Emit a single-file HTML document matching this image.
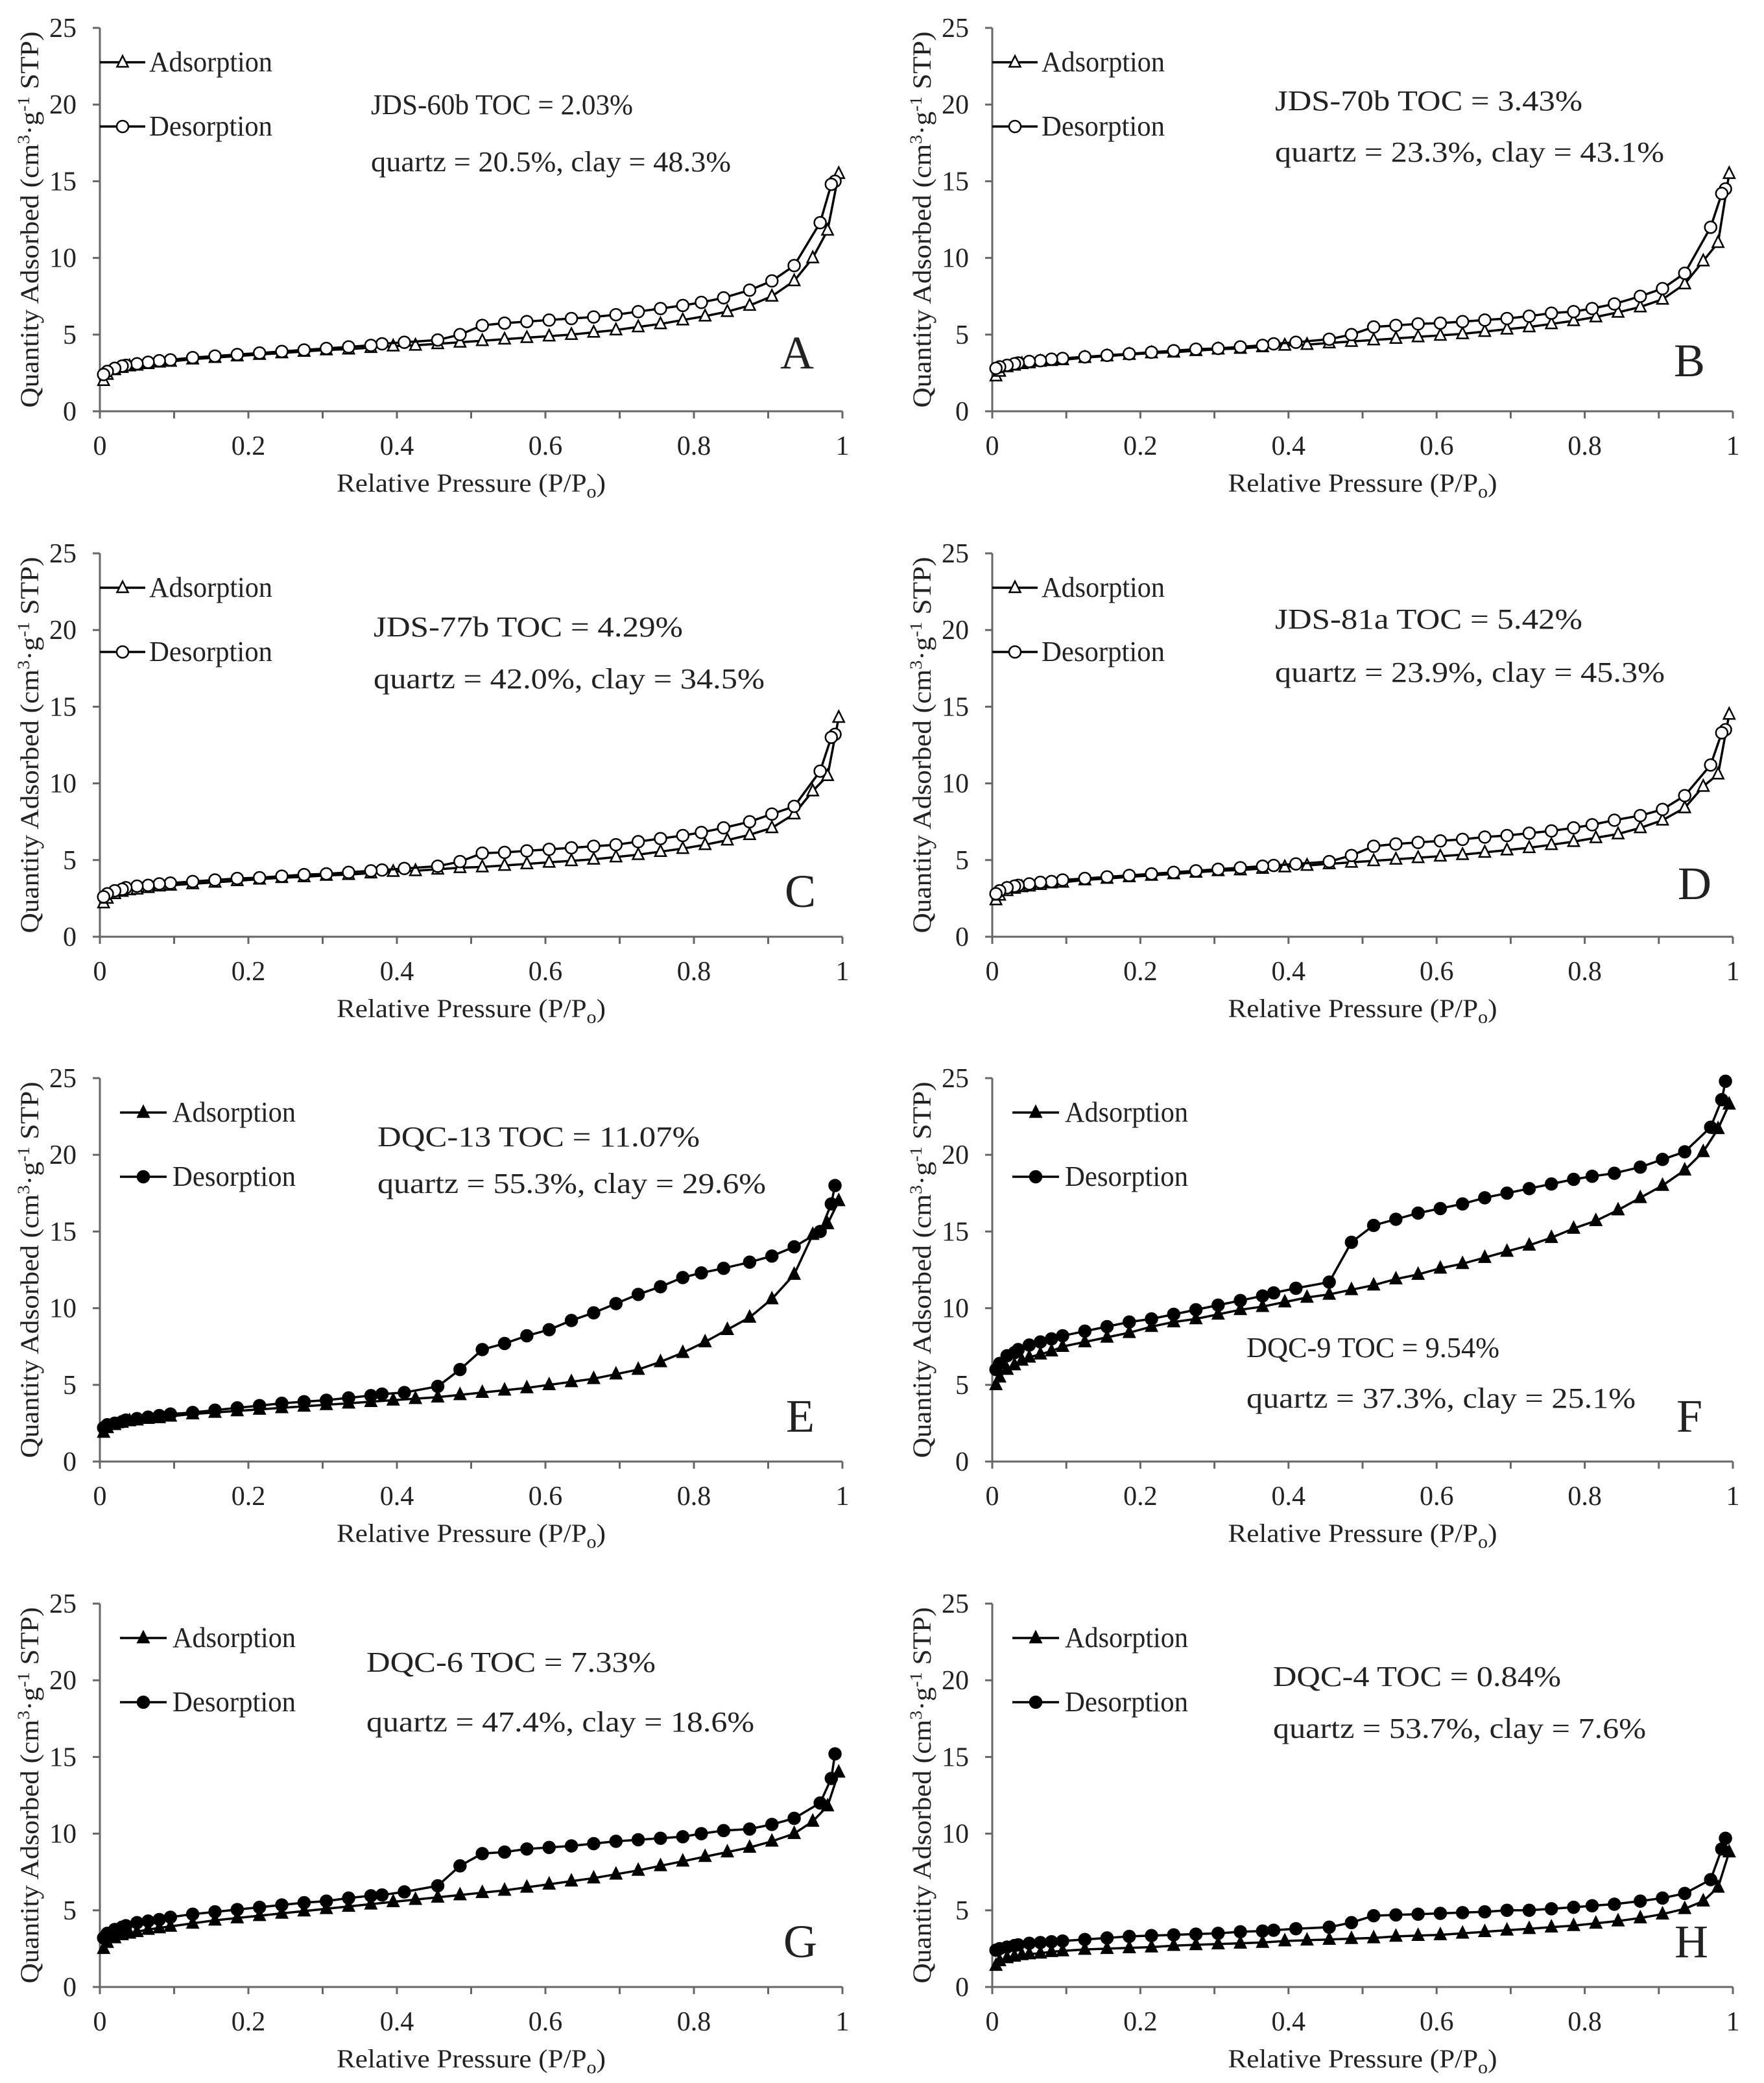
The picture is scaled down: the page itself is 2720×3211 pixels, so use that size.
<!DOCTYPE html>
<html><head><meta charset="utf-8"><style>
html,body{margin:0;padding:0;background:#fff}
svg{display:block}
text{font-family:"Liberation Serif",serif;fill:#222}
</style></head><body>
<svg id="fig" width="2720" height="3211" viewBox="0 0 2720 3211" xmlns="http://www.w3.org/2000/svg"></svg>
<script>
// shared x values (relative pressure)
const adsX = [0.005,0.01,0.02,0.03,0.04,0.05,0.065,0.08,0.095,0.125,0.155,0.185,0.215,0.245,0.275,0.305,0.335,0.365,0.395,0.425,0.455,0.485,0.515,0.545,0.575,0.605,0.635,0.665,0.695,0.725,0.755,0.785,0.815,0.845,0.875,0.905,0.935,0.96,0.98,0.995];
const desX = [0.99,0.985,0.97,0.935,0.905,0.875,0.84,0.81,0.785,0.755,0.725,0.695,0.665,0.635,0.605,0.575,0.545,0.515,0.485,0.455,0.41,0.38,0.365,0.335,0.305,0.275,0.245,0.215,0.185,0.155,0.125,0.095,0.08,0.065,0.05,0.035,0.03,0.02,0.01,0.005];
const xTicks = [0,0.2,0.4,0.6,0.8,1];
const xTickLabels = ["0","0.2","0.4","0.6","0.8","1"];
const yTicks = [0,5,10,15,20,25];
const panelIds = ["A","B","C","D","E","F","G","H"];
const adsA = [2.0,2.4,2.7,2.85,2.95,3.0,3.1,3.2,3.25,3.4,3.5,3.6,3.7,3.8,3.9,4.0,4.05,4.15,4.25,4.3,4.4,4.5,4.6,4.7,4.8,4.9,5.0,5.15,5.3,5.5,5.7,5.95,6.2,6.5,6.9,7.5,8.5,10.0,11.8,15.5];
const desA = [15.0,14.8,12.3,9.5,8.5,7.9,7.4,7.1,6.9,6.7,6.5,6.3,6.15,6.05,5.95,5.85,5.75,5.6,5.0,4.65,4.5,4.4,4.3,4.2,4.1,4.0,3.9,3.8,3.7,3.6,3.5,3.35,3.3,3.2,3.1,3.0,2.95,2.8,2.6,2.4];
const adsB = [2.3,2.6,2.9,3.0,3.1,3.15,3.25,3.3,3.35,3.5,3.6,3.7,3.8,3.85,3.95,4.05,4.1,4.2,4.3,4.35,4.45,4.55,4.65,4.75,4.85,4.95,5.05,5.2,5.35,5.5,5.7,5.9,6.15,6.45,6.8,7.3,8.3,9.8,11.0,15.5];
const desB = [14.5,14.2,12.0,9.0,8.0,7.5,7.0,6.7,6.5,6.4,6.2,6.05,5.95,5.85,5.75,5.7,5.6,5.5,5.0,4.7,4.5,4.4,4.3,4.2,4.1,4.05,3.95,3.85,3.75,3.65,3.55,3.45,3.4,3.3,3.25,3.15,3.1,3.0,2.9,2.8];
const adsC = [2.2,2.5,2.8,2.95,3.05,3.1,3.2,3.3,3.35,3.45,3.55,3.65,3.75,3.85,3.9,4.0,4.05,4.15,4.25,4.3,4.4,4.5,4.55,4.65,4.75,4.85,4.95,5.05,5.2,5.35,5.55,5.75,6.0,6.3,6.65,7.1,8.0,9.5,10.5,14.3];
const desC = [13.2,13.0,10.8,8.5,8.0,7.5,7.1,6.8,6.6,6.4,6.2,6.0,5.9,5.8,5.7,5.6,5.5,5.45,4.9,4.6,4.45,4.35,4.3,4.2,4.1,4.05,3.95,3.85,3.8,3.7,3.6,3.5,3.45,3.35,3.3,3.2,3.1,3.0,2.8,2.6];
const adsD = [2.4,2.7,3.0,3.15,3.25,3.3,3.4,3.5,3.55,3.7,3.8,3.9,4.0,4.1,4.2,4.3,4.35,4.45,4.55,4.65,4.75,4.85,4.95,5.05,5.15,5.25,5.35,5.5,5.65,5.8,6.0,6.2,6.45,6.7,7.1,7.6,8.4,9.8,10.6,14.5];
const desD = [13.5,13.3,11.2,9.2,8.3,7.9,7.6,7.3,7.1,6.9,6.75,6.6,6.5,6.35,6.25,6.15,6.05,5.9,5.3,4.9,4.75,4.65,4.6,4.5,4.4,4.3,4.2,4.1,4.0,3.9,3.8,3.7,3.6,3.55,3.45,3.35,3.3,3.2,3.0,2.8];
const adsE = [1.9,2.2,2.4,2.55,2.65,2.7,2.8,2.85,2.95,3.1,3.2,3.3,3.4,3.5,3.6,3.7,3.8,3.9,4.0,4.1,4.2,4.35,4.5,4.65,4.8,5.0,5.2,5.4,5.7,6.0,6.5,7.1,7.8,8.6,9.4,10.6,12.2,14.8,15.5,17.0];
const desE = [18.0,16.8,15.0,14.0,13.4,13.0,12.6,12.3,12.0,11.4,10.9,10.3,9.7,9.2,8.6,8.2,7.7,7.3,6.0,4.9,4.5,4.4,4.3,4.15,4.0,3.9,3.8,3.65,3.5,3.35,3.2,3.1,3.0,2.9,2.8,2.7,2.6,2.5,2.4,2.2];
const adsF = [5.0,5.5,6.0,6.3,6.6,6.8,7.0,7.2,7.5,7.8,8.1,8.4,8.8,9.1,9.3,9.6,9.9,10.1,10.4,10.7,10.9,11.2,11.5,11.9,12.2,12.6,12.9,13.3,13.7,14.1,14.6,15.2,15.7,16.4,17.2,18.0,19.0,20.2,21.7,23.3];
const desF = [24.8,23.6,21.8,20.2,19.7,19.2,18.8,18.6,18.4,18.1,17.8,17.5,17.2,16.8,16.5,16.2,15.8,15.4,14.3,11.7,11.3,11.0,10.8,10.5,10.2,9.9,9.6,9.3,9.1,8.8,8.5,8.2,8.0,7.8,7.6,7.3,7.1,6.9,6.4,6.0];
const adsG = [2.5,2.9,3.2,3.4,3.5,3.6,3.75,3.85,3.95,4.15,4.35,4.5,4.65,4.8,4.95,5.1,5.25,5.4,5.55,5.7,5.85,6.0,6.15,6.3,6.5,6.7,6.9,7.1,7.35,7.6,7.9,8.2,8.5,8.8,9.1,9.5,10.0,10.8,11.8,14.0];
const desG = [15.2,13.6,12.0,11.0,10.6,10.3,10.2,10.0,9.8,9.7,9.6,9.5,9.35,9.2,9.1,9.0,8.8,8.7,7.9,6.6,6.2,6.0,5.95,5.8,5.6,5.5,5.35,5.2,5.05,4.9,4.75,4.55,4.4,4.3,4.2,4.0,3.9,3.75,3.5,3.2];
const adsH = [1.4,1.7,1.9,2.0,2.1,2.15,2.2,2.3,2.35,2.45,2.5,2.55,2.6,2.7,2.75,2.8,2.85,2.9,3.0,3.05,3.1,3.15,3.2,3.3,3.35,3.4,3.5,3.6,3.7,3.8,3.9,4.0,4.15,4.3,4.5,4.75,5.1,5.6,6.5,8.8];
const desH = [9.7,9.0,7.0,6.1,5.8,5.6,5.4,5.3,5.2,5.1,5.0,5.0,4.9,4.85,4.8,4.75,4.7,4.65,4.2,3.9,3.8,3.7,3.65,3.6,3.5,3.45,3.4,3.35,3.3,3.2,3.1,3.0,2.95,2.9,2.85,2.75,2.7,2.6,2.5,2.4];
const adsSeries = [adsA,adsB,adsC,adsD,adsE,adsF,adsG,adsH];
const desSeries = [desA,desB,desC,desD,desE,desF,desG,desH];
const note1 = ["JDS-60b  TOC = 2.03%","JDS-70b  TOC = 3.43%","JDS-77b  TOC = 4.29%","JDS-81a  TOC = 5.42%","DQC-13  TOC = 11.07%","DQC-9  TOC = 9.54%","DQC-6  TOC = 7.33%","DQC-4  TOC = 0.84%"];
const note2 = ["quartz = 20.5%,  clay = 48.3%","quartz = 23.3%,  clay = 43.1%","quartz = 42.0%,  clay = 34.5%","quartz = 23.9%,  clay = 45.3%","quartz = 55.3%,  clay = 29.6%","quartz = 37.3%,  clay = 25.1%","quartz = 47.4%,  clay = 18.6%","quartz = 53.7%,  clay = 7.6%"];

const NS = "http://www.w3.org/2000/svg";
const svg = document.getElementById("fig");
function mk(tag, attrs, parent){const e=document.createElementNS(NS,tag);for(const k in attrs)e.setAttribute(k,attrs[k]);(parent||svg).appendChild(e);return e;}

// layout (display-derived)
const colX = [[154,1299],[1530,2672]];
const rowTop = [43,853,1662,2472];
const plotH = 591;
// annotation positions relative to plot origin (left, top)
const n1Pos = [[418,118,404],[436,112,474],[422,113,477],[436,101,474],[428,90,497],[392,415,390],[411,90,446],[433,112,444]];
const n2Pos = [[418,206,555],[436,191,600],[422,193,603],[436,183,601],[428,162,599],[392,493,600],[411,182,598],[433,192,575]];
const letPos = [[1075,500],[1075,512],[1080,520],[1083,508],[1080,520],[1075,520],[1080,520],[1078,520]];

panelIds.forEach((id,i)=>{
  const c=i%2, r=Math.floor(i/2);
  const x0=colX[c][0], x1=colX[c][1], yTop=rowTop[r], yBot=yTop+plotH;
  const sx=v=>x0+(x1-x0)*v;
  const sy=v=>yBot-(yBot-yTop)*v/25;
  const filled = i>=4;
  const g=mk("g",{});
  
  
  // axes
  const ax=mk("path",{d:`M${x0},${yTop}V${yBot}H${x1}`,stroke:"#666","stroke-width":3,fill:"none"},g);
  
  
  yTicks.forEach(t=>{
    const y=sy(t);
    mk("line",{x1:x0-11,x2:x0,y1:y,y2:y,stroke:"#666","stroke-width":3},g);
    const tl=mk("text",{x:x0-36,y:y+14,"text-anchor":"end","font-size":42,fill:"#333"},g);
    tl.textContent=String(t);
    
    
  });
  for(let k=0;k<=10;k++){const x=sx(k/10);mk("line",{x1:x,x2:x,y1:yBot,y2:yBot+11,stroke:"#666","stroke-width":3},g);}
  xTicks.forEach((t,k)=>{
    const tl=mk("text",{x:sx(t),y:yBot+67,"text-anchor":"middle","font-size":42,fill:"#333"},g);
    tl.textContent=xTickLabels[k];
    
    
  });
  const xt=mk("text",{x:(x0+x1)/2,y:yBot+124,"text-anchor":"middle","font-size":40,fill:"#333",textLength:415,lengthAdjust:"spacingAndGlyphs"},g);
  xt.innerHTML='Relative Pressure (P/P<tspan font-size="28" dy="9">o</tspan><tspan dy="-9">)</tspan>';
  
  
  const yt=mk("text",{x:0,y:0,"text-anchor":"middle","font-size":40,fill:"#333",textLength:580,lengthAdjust:"spacingAndGlyphs",transform:`translate(${x0-95},${(yTop+yBot)/2}) rotate(-90)`},g);
  yt.innerHTML='Quantity Adsorbed (cm<tspan font-size="26" dy="-14">3</tspan><tspan dy="14">·g</tspan><tspan font-size="26" dy="-14">-1</tspan><tspan dy="14"> STP)</tspan>';
  
  
  // series
  function drawSeries(xs,ys,kind,name){
    const sg=mk("g",{},g);
    
    
    const d=xs.map((x,k)=>(k?"L":"M")+sx(x).toFixed(1)+","+sy(ys[k]).toFixed(1)).join("");
    mk("path",{d:d,stroke:"#000","stroke-width":3.5,fill:"none","stroke-linejoin":"round"},sg);
    xs.forEach((x,k)=>{
      const px=sx(x), py=sy(ys[k]);
      let m;
      if(kind==="tri") m=mk("path",{d:`M${px},${py-10}L${px+8.5},${py+7}L${px-8.5},${py+7}Z`,fill:filled?"#000":"#fff",stroke:"#000","stroke-width":2.5},sg);
      else m=mk("circle",{cx:px,cy:py,r:9,fill:filled?"#000":"#fff",stroke:"#000","stroke-width":2.5},sg);
      
      
    });
  }
  drawSeries(adsX,adsSeries[i],"tri","adsorption-series-"+id.toLowerCase());
  drawSeries(desX,desSeries[i],"circ","desorption-series-"+id.toLowerCase());
  // legend
  const lx0 = filled ? x0+31 : x0, lx1 = filled ? x0+103 : x0+70, lmx=(lx0+lx1)/2+ (filled?0:0), ltx = filled ? x0+112 : x0+76;
  const ly=[yTop+53, yTop+152];
  [["Adsorption","tri"],["Desorption","circ"]].forEach((e,k)=>{
    const lg=mk("g",{},g);
    
    
    mk("line",{x1:lx0,x2:lx1,y1:ly[k],y2:ly[k],stroke:"#000","stroke-width":3.5},lg);
    const px=lmx, py=ly[k];
    if(e[1]==="tri") mk("path",{d:`M${px},${py-10}L${px+8.5},${py+7}L${px-8.5},${py+7}Z`,fill:filled?"#000":"#fff",stroke:"#000","stroke-width":2.5},lg);
    else mk("circle",{cx:px,cy:py,r:9,fill:filled?"#000":"#fff",stroke:"#000","stroke-width":2.5},lg);
    const t=mk("text",{x:ltx,y:py+14,"font-size":44,fill:"#222",textLength:190,lengthAdjust:"spacingAndGlyphs"},lg);
    t.textContent=e[0];
  });
  // annotations
  const a1=mk("text",{x:x0+n1Pos[i][0],y:yTop+n1Pos[i][1]+15,"font-size":44,textLength:n1Pos[i][2],lengthAdjust:"spacingAndGlyphs"},g);
  a1.textContent=note1[i];
  
  
  const a2=mk("text",{x:x0+n2Pos[i][0],y:yTop+n2Pos[i][1]+15,"font-size":44,textLength:n2Pos[i][2],lengthAdjust:"spacingAndGlyphs"},g);
  a2.textContent=note2[i];
  
  
  const L=mk("text",{x:x0+letPos[i][0],y:yTop+letPos[i][1]+25,"text-anchor":"middle","font-size":72,fill:"#111"},g);
  L.textContent=id;
  
  
});
</script>
</body></html>
